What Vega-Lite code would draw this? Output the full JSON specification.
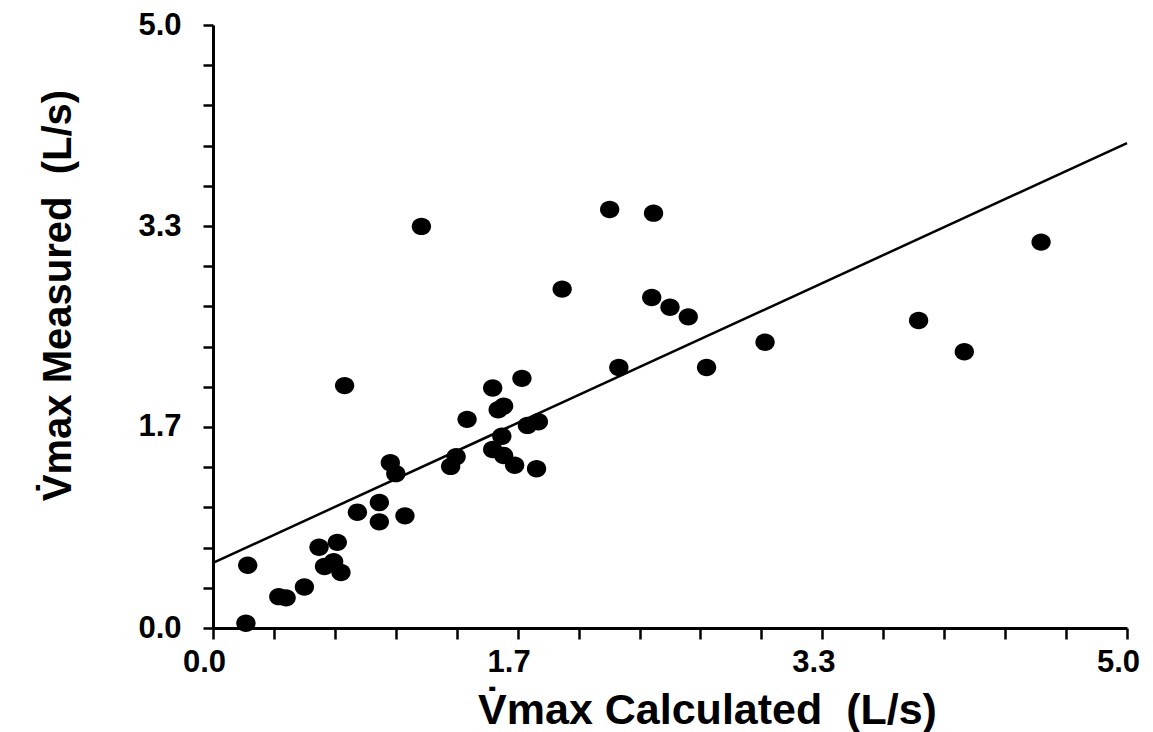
{
  "$schema": "https://vega.github.io/schema/vega-lite/v6.json",
  "width": 914,
  "height": 603,
  "autosize": {"type": "none"},
  "padding": {"left": 213, "top": 25, "right": 26, "bottom": 104},
  "background": "white",
  "config": {"view": {"stroke": null}},
  "encoding": {
    "x": {
      "field": "calc",
      "type": "quantitative",
      "scale": {"domain": [0, 5], "nice": false, "zero": false},
      "axis": {
        "grid": false,
        "domainColor": "black",
        "domainWidth": 3,
        "tickColor": "black",
        "tickWidth": 2.5,
        "tickSize": 11,
        "labelFont": "Liberation Sans",
        "labelFontSize": 31,
        "labelFontWeight": "bold",
        "labelColor": "black",
        "titleFont": "Liberation Sans",
        "titleFontWeight": "bold",
        "titleColor": "black",
        "title": "V̇max Calculated \u00a0(L/s)",
        "titleFontSize": 43,
        "titleX": 494,
        "titleY": 95,
        "titleAlign": "center",
        "titleBaseline": "alphabetic",
        "values": [0, 0.333333, 0.666667, 1, 1.333333, 1.666667, 2, 2.333333, 2.666667, 3, 3.333333, 3.666667, 4, 4.333333, 4.666667, 5],
        "labelExpr": "abs(datum.value*0.6 - round(datum.value*0.6)) < 0.001 ? format(datum.value, '.1f') : ''",
        "labelFlush": false,
        "labelOverlap": false,
        "labelPadding": 8,
        "labelOffset": -9
      }
    },
    "y": {
      "field": "meas",
      "type": "quantitative",
      "scale": {"domain": [0, 5], "nice": false, "zero": false},
      "axis": {
        "grid": false,
        "domainColor": "black",
        "domainWidth": 3,
        "tickColor": "black",
        "tickWidth": 2.5,
        "tickSize": 10,
        "labelFont": "Liberation Sans",
        "labelFontSize": 31,
        "labelFontWeight": "bold",
        "labelColor": "black",
        "titleFont": "Liberation Sans",
        "titleFontWeight": "bold",
        "titleColor": "black",
        "title": "V̇max Measured \u00a0(L/s)",
        "titleFontSize": 40,
        "titleX": -143,
        "titleY": 270,
        "titleAlign": "center",
        "titleBaseline": "alphabetic",
        "titleAngle": -90,
        "values": [0, 0.333333, 0.666667, 1, 1.333333, 1.666667, 2, 2.333333, 2.666667, 3, 3.333333, 3.666667, 4, 4.333333, 4.666667, 5],
        "labelExpr": "abs(datum.value*0.6 - round(datum.value*0.6)) < 0.001 ? format(datum.value, '.1f') : ''",
        "labelOverlap": false,
        "labelFlush": false,
        "labelPadding": 22
      }
    }
  },
  "layer": [
    {
      "data": {
        "values": [
          {"calc": 0.18, "meas": 0.04},
          {"calc": 0.19, "meas": 0.52},
          {"calc": 0.36, "meas": 0.26},
          {"calc": 0.40, "meas": 0.25},
          {"calc": 0.50, "meas": 0.34},
          {"calc": 0.58, "meas": 0.67},
          {"calc": 0.68, "meas": 0.71},
          {"calc": 0.61, "meas": 0.51},
          {"calc": 0.66, "meas": 0.55},
          {"calc": 0.70, "meas": 0.46},
          {"calc": 0.79, "meas": 0.96},
          {"calc": 0.91, "meas": 0.88},
          {"calc": 0.91, "meas": 1.04},
          {"calc": 1.05, "meas": 0.93},
          {"calc": 0.97, "meas": 1.37},
          {"calc": 1.00, "meas": 1.28},
          {"calc": 0.72, "meas": 2.01},
          {"calc": 1.14, "meas": 3.33},
          {"calc": 1.30, "meas": 1.34},
          {"calc": 1.33, "meas": 1.42},
          {"calc": 1.39, "meas": 1.73},
          {"calc": 1.53, "meas": 1.99},
          {"calc": 1.69, "meas": 2.07},
          {"calc": 1.56, "meas": 1.81},
          {"calc": 1.59, "meas": 1.84},
          {"calc": 1.72, "meas": 1.68},
          {"calc": 1.78, "meas": 1.71},
          {"calc": 1.58, "meas": 1.59},
          {"calc": 1.53, "meas": 1.48},
          {"calc": 1.59, "meas": 1.43},
          {"calc": 1.65, "meas": 1.35},
          {"calc": 1.77, "meas": 1.32},
          {"calc": 1.91, "meas": 2.81},
          {"calc": 2.17, "meas": 3.47},
          {"calc": 2.41, "meas": 3.44},
          {"calc": 2.40, "meas": 2.74},
          {"calc": 2.50, "meas": 2.66},
          {"calc": 2.60, "meas": 2.58},
          {"calc": 2.22, "meas": 2.16},
          {"calc": 2.70, "meas": 2.16},
          {"calc": 3.02, "meas": 2.37},
          {"calc": 3.86, "meas": 2.55},
          {"calc": 4.11, "meas": 2.29},
          {"calc": 4.53, "meas": 3.20}
        ]
      },
      "mark": {
        "type": "point",
        "filled": true,
        "shape": "M-1.11,0A1.11,1,0,1,0,1.11,0A1.11,1,0,1,0,-1.11,0Z",
        "size": 303,
        "color": "black",
        "opacity": 1
      }
    },
    {
      "data": {"values": [{"calc": 0, "meas": 0.54}, {"calc": 5, "meas": 4.02}]},
      "mark": {"type": "line", "color": "black", "strokeWidth": 2.5}
    }
  ]
}
